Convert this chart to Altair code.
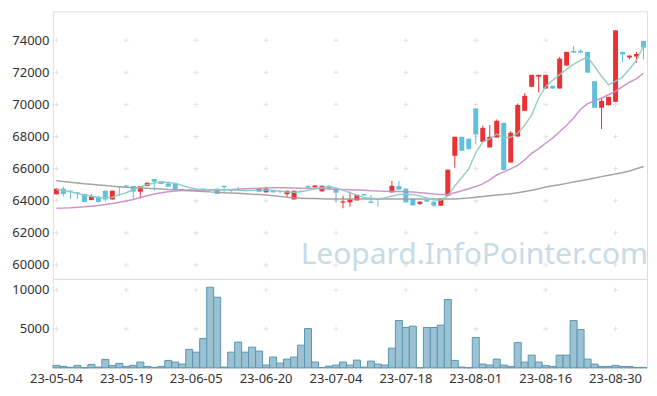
import altair as alt
import pandas as pd

dates = [
    "23-05-04", "23-05-08", "23-05-09", "23-05-10", "23-05-11", "23-05-12", "23-05-15", "23-05-16",
    "23-05-17", "23-05-18", "23-05-19", "23-05-22", "23-05-23", "23-05-24", "23-05-25", "23-05-26",
    "23-05-30", "23-05-31", "23-06-01", "23-06-02", "23-06-05", "23-06-07", "23-06-08", "23-06-09",
    "23-06-12", "23-06-13", "23-06-14", "23-06-15", "23-06-16", "23-06-19", "23-06-20", "23-06-21",
    "23-06-22", "23-06-23", "23-06-26", "23-06-27", "23-06-28", "23-06-29", "23-06-30", "23-07-03",
    "23-07-04", "23-07-05", "23-07-06", "23-07-07", "23-07-10", "23-07-11", "23-07-12", "23-07-13",
    "23-07-14", "23-07-17", "23-07-18", "23-07-19", "23-07-20", "23-07-21", "23-07-24", "23-07-25",
    "23-07-26", "23-07-27", "23-07-28", "23-07-31", "23-08-01", "23-08-02", "23-08-03", "23-08-04",
    "23-08-07", "23-08-08", "23-08-09", "23-08-10", "23-08-11", "23-08-14", "23-08-16", "23-08-17",
    "23-08-18", "23-08-21", "23-08-22", "23-08-23", "23-08-24", "23-08-25", "23-08-28", "23-08-29",
    "23-08-30", "23-08-31", "23-09-01", "23-09-04", "23-09-05",
]

opens = [
    64400, 64750, 64630, 64520, 64420, 64040, 64250, 64620, 64080, 64890,
    64950, 64910, 64560, 64910, 65350, 65220, 65080, 65080, 64730, 64700,
    64660, 64750, 64650, 64750, 64930, 64670, 64700, 64660, 64660, 64580,
    64520, 64660, 64580, 64400, 64080, 64620, 64910, 64830, 64580, 64930,
    64750, 63880, 63900, 64020, 64420, 63940, 64150, 64150, 64520, 64910,
    64750, 64120, 63800, 64040, 63940, 63690, 64310, 66800, 67980, 67860,
    69750, 67670, 67320, 67940, 68850, 66380, 68000, 69600, 71100, 71730,
    70990, 71150, 70990, 72420, 73330, 73330, 73270, 71440, 69790, 69950,
    70160, 73270, 72920, 72980, 73950,
]
highs = [
    64760, 64870, 64640, 64530, 64430, 64400, 64300, 64630, 64630, 64910,
    64960, 64920, 64920, 65130, 65360, 65230, 65090, 65090, 64740, 64710,
    64670, 64760, 64660, 64760, 64940, 64720, 64870, 64670, 64670, 64750,
    64870, 64670, 64590, 64630, 64630, 64630, 64950, 64960, 64940, 64940,
    64760, 64300, 64560, 64380, 64430, 64350, 64160, 64160, 65230, 65230,
    64760, 64130, 63950, 64050, 63950, 64130, 65940, 67990, 67990, 67870,
    69760, 68670, 68710, 69060, 68860, 68330, 70060, 70700, 71850, 71850,
    71850, 71160, 72960, 73280, 73640, 73430, 73280, 71450, 70410, 70480,
    74620, 73280, 73050, 73270, 73960,
]
lows = [
    64390, 64250, 64100, 64100, 63900, 64030, 63880, 63950, 64070, 64290,
    64860, 64130, 64130, 64900, 64620, 65030, 64860, 64680, 64600, 64650,
    64590, 64610, 64610, 64410, 64460, 64550, 64630, 64590, 64610, 64570,
    64510, 64510, 64460, 64250, 64070, 64550, 64750, 64820, 64570, 64740,
    63920, 63530, 63630, 64010, 64320, 63850, 63630, 64100, 64510, 64680,
    63890, 63700, 63730, 63930, 63590, 63680, 64300, 66050, 67100, 67200,
    67500, 67660, 67310, 67930, 65900, 66370, 67990, 69590, 71090, 70740,
    70980, 70980, 70980, 72410, 73220, 73220, 71970, 69780, 68460, 69940,
    70150, 72600, 72810, 72600, 72810,
]
closes = [
    64750, 64420, 64580, 64460, 63920, 64250, 63920, 64080, 64620, 64850,
    64870, 64560, 64910, 65120, 65180, 65040, 64870, 64690, 64660, 64660,
    64600, 64620, 64620, 64420, 64850, 64620, 64640, 64600, 64620, 64745,
    64745, 64520, 64540, 64620, 64620, 64560, 64830, 64950, 64930, 64750,
    64500, 63960, 64080, 64370, 64330, 63860, 64070, 64110, 64930, 64690,
    63900, 63710, 63940, 63940, 63690, 64120, 65930, 67980, 67110, 67210,
    68130, 68540, 67980, 68980, 65910, 68230, 69970, 70530, 71840, 71840,
    71840, 70990, 72850, 73270, 73230, 73230, 71980, 69790, 70220, 70470,
    74610, 73120, 73040, 73140, 73540,
]
volumes = [
    300, 170, 50, 300, 0, 430, 90, 1070, 300, 560,
    170, 300, 730, 170, 50, 170, 940, 730, 470, 2350,
    2000, 3760, 10340, 9060, 85, 2000, 3290, 2000, 2650, 2140,
    340, 1370, 600, 1110, 1370, 2900, 5040, 730, 40, 210,
    340, 730, 340, 980, 85, 850, 470, 340, 2520, 6070,
    5170, 5340, 0, 5170, 5170, 5470, 8760, 940, 85, 0,
    3890, 470, 340, 1110, 340, 170, 3250, 730, 1620, 730,
    300, 170, 1620, 1620, 6070, 4910, 1110, 470, 170, 170,
    300, 170, 170, 40, 40,
]
ma5 = [
    64700, 64640, 64560, 64450, 64360, 64280, 64200, 64180, 64220, 64380,
    64500, 64700, 64850, 65000, 65100, 65150, 65150, 65080, 64950, 64820,
    64730, 64700, 64690, 64660, 64700, 64680, 64650, 64640, 64640, 64650,
    64650, 64640, 64600, 64540, 64520, 64560, 64650, 64740, 64820, 64880,
    64800, 64660, 64500, 64330, 64200, 64150, 64110, 64170, 64300, 64380,
    64400, 64380, 64300, 64170, 64050, 64030, 64300, 64920, 65450, 65980,
    67000, 67650, 67850, 68150, 67930, 67950, 68200, 68700, 69350, 70400,
    71100, 71500, 71850, 72200, 72500, 72750, 72950, 72350, 71750, 71220,
    71450, 71700, 72200, 72750, 73650,
]
ma20 = [
    63530, 63540, 63560, 63590, 63620, 63660, 63700, 63760, 63830, 63900,
    63980, 64080, 64200, 64310, 64420, 64500, 64560, 64600, 64630, 64650,
    64660, 64670, 64675, 64680, 64690, 64700, 64720, 64740, 64760, 64780,
    64790, 64800, 64800, 64800, 64790, 64780, 64770, 64760, 64740, 64725,
    64710, 64700, 64690, 64670, 64650, 64620, 64600, 64590, 64580, 64570,
    64560, 64540, 64500, 64460, 64420, 64390, 64400, 64500, 64620, 64750,
    64880, 65050, 65300, 65600, 65800, 65980, 66200, 66550, 66950, 67250,
    67580, 67900, 68300, 68700, 69150, 69700, 70050, 70220, 70400, 70600,
    70820, 71100, 71380, 71600, 71940,
]
ma60 = [
    65240, 65200, 65150, 65110, 65060, 65020, 64980, 64940, 64900, 64870,
    64840, 64820, 64800, 64770, 64750, 64730, 64700, 64680, 64650, 64620,
    64600, 64580, 64550, 64530, 64500, 64480, 64460, 64430, 64400, 64380,
    64350, 64310, 64270, 64220, 64180, 64160, 64140, 64130, 64120, 64110,
    64110, 64100, 64100, 64100, 64100, 64100, 64100, 64100, 64100, 64100,
    64100, 64100, 64100, 64100, 64100, 64100, 64100, 64110, 64130, 64170,
    64220, 64260, 64310, 64350, 64390, 64430, 64490, 64570, 64650, 64750,
    64850, 64930, 65000, 65080, 65160, 65240, 65320, 65410, 65500, 65590,
    65660, 65740, 65850, 65990, 66130,
]

tick_dates = ["23-05-04", "23-05-19", "23-06-05", "23-06-20", "23-07-04",
              "23-07-18", "23-08-01", "23-08-16", "23-08-30"]
price_ticks = [60000, 62000, 64000, 66000, 68000, 70000, 72000, 74000]
volume_ticks = [5000, 10000]
watermark = "Leopard.InfoPointer.com"

RED = "#ea3234"
BLUE = "#62bfdb"
FONT = "Noto Sans"
GRID = "#e2e2e2"

df = pd.DataFrame({
    "date": dates, "open": opens, "high": highs, "low": lows, "close": closes,
    "volume": volumes, "ma5": ma5, "ma20": ma20, "ma60": ma60,
})
df["dir"] = ["up" if c >= o else "down" for o, c in zip(opens, closes)]

grid_price = pd.DataFrame([(d, v) for d in tick_dates for v in price_ticks], columns=["date", "v"])
grid_vol = pd.DataFrame([(d, v) for d in tick_dates for v in volume_ticks], columns=["date", "v"])

xscale = alt.Scale(type="band", domain=dates, paddingInner=0, paddingOuter=0)
x_shown = alt.Axis(values=tick_dates, labelAngle=0, ticks=False, grid=False, title=None,
                   domainColor="#e3e3e3", labelPadding=5, labelFontSize=13,
                   labelColor="#333333", labelFont=FONT)

pscale = alt.Scale(domain=[59130, 75800], nice=False, zero=False)
paxis = alt.Axis(values=price_ticks, format="d", title=None, ticks=False, grid=False,
                 labelPadding=4, domainColor="#e3e3e3", labelFontSize=13,
                 labelColor="#333333", labelFont=FONT)
vscale = alt.Scale(domain=[0, 11420], nice=False, zero=True)
vaxis = alt.Axis(values=volume_ticks, format="d", title=None, ticks=False, grid=False,
                 labelPadding=4, domainColor="#e3e3e3", labelFontSize=13,
                 labelColor="#333333", labelFont=FONT)

cross = "M-1,0L1,0M0,-1L0,1"
color = alt.Color("dir:N", scale=alt.Scale(domain=["up", "down"], range=[RED, BLUE]), legend=None)


def X(axis):
    return alt.X("date:O", scale=xscale, axis=axis, bandPosition=0.5)


wm = alt.Chart(alt.Data(values=[{"t": watermark}])).mark_text(
    align="right", baseline="alphabetic", fontSize=30, font=FONT, color="#c6dbe6"
).encode(text="t:N", x=alt.value(596), y=alt.value(253))

gp = alt.Chart(grid_price).mark_point(shape=cross, size=25, filled=False, stroke=GRID,
                                      strokeWidth=1, opacity=1).encode(
    x=X(None), y=alt.Y("v:Q", scale=pscale, axis=paxis))

wick = alt.Chart(df).mark_rule(strokeWidth=1).encode(
    x=X(None), y=alt.Y("low:Q", scale=pscale, axis=paxis), y2="high:Q", color=color)
body = alt.Chart(df).mark_bar(width=5).encode(
    x=alt.X("date:O", scale=xscale, axis=None),
    y=alt.Y("open:Q", scale=pscale, axis=paxis), y2="close:Q", color=color)


def ma_line(field, col):
    return alt.Chart(df).mark_line(strokeWidth=1.5, color=col, opacity=0.9).encode(
        x=X(None), y=alt.Y(f"{field}:Q", scale=pscale, axis=paxis))


top = alt.layer(
    wm, gp, wick, body,
    ma_line("ma60", "#9a9a9a"), ma_line("ma20", "#c98ac6"), ma_line("ma5", "#8ccbc3"),
).properties(width=595, height=268)

gv = alt.Chart(grid_vol).mark_point(shape=cross, size=25, filled=False, stroke=GRID,
                                    strokeWidth=1, opacity=1).encode(
    x=X(x_shown), y=alt.Y("v:Q", scale=vscale, axis=vaxis))
vbar = alt.Chart(df).mark_bar(fill="#9bc2d2", stroke="#5b96b2", strokeWidth=1).encode(
    x=alt.X("date:O", scale=xscale, axis=x_shown),
    y=alt.Y("volume:Q", scale=vscale, axis=vaxis))

bottom = alt.layer(gv, vbar).properties(width=595, height=89)

chart = alt.vconcat(top, bottom, spacing=0, bounds="flush").properties(
    padding={"left": 3, "top": 2, "right": 0, "bottom": 5}
).configure_view(stroke="#e3e3e3").configure(font=FONT)

chart.save("out.html", embed_options={"renderer": "svg", "actions": False})
